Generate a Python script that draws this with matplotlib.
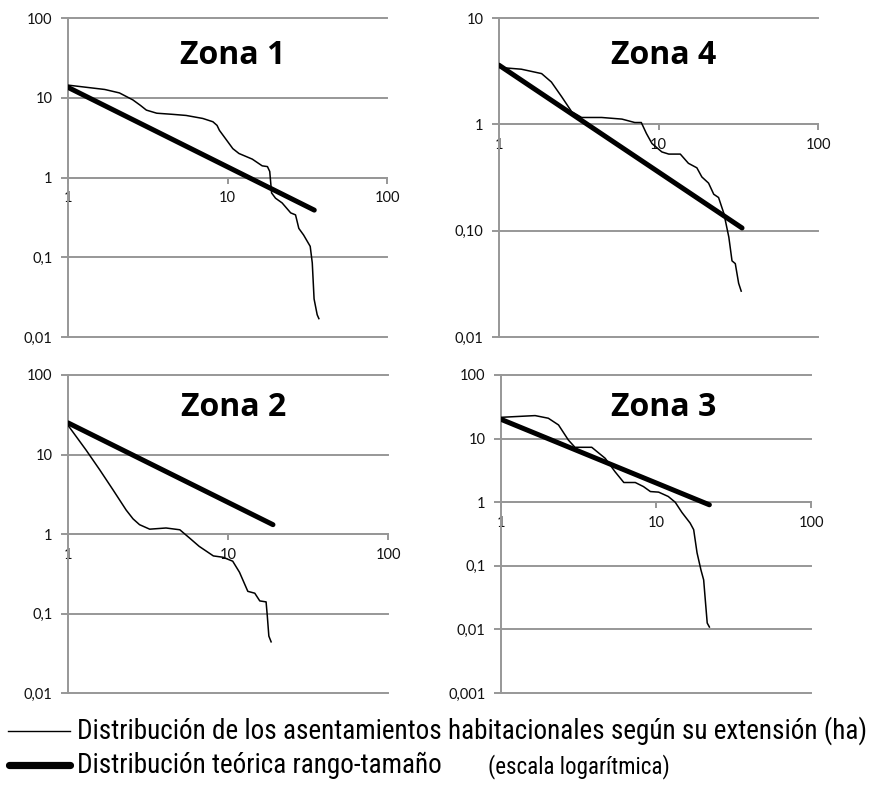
import matplotlib
matplotlib.use("Agg")
import matplotlib.pyplot as plt
import matplotlib.font_manager as fm
from matplotlib.lines import Line2D
from matplotlib.ticker import FixedLocator, FixedFormatter, NullLocator

# ---------------- data ----------------
zone_titles = ["Zona 1", "Zona 4", "Zona 2", "Zona 3"]

# Zona 1
z1_rank = [1, 1.7, 2.1, 2.55, 2.85, 3.1, 3.6, 4.5, 5.5, 7.0, 8.1, 8.6, 8.9, 9.8, 10.8, 11.8, 14.3, 16.5,
           17.8, 18.4, 18.9, 20, 22, 24.9, 26.7, 28, 30, 33, 34, 34.9, 36.5, 37.4]
z1_size = [14.4, 12.7, 11.5, 9.4, 8.0, 7.0, 6.4, 6.2, 6.0, 5.5, 5.0, 4.5, 3.9, 3.0, 2.3, 2.0, 1.7, 1.4,
           1.37, 1.19, 0.64, 0.55, 0.48, 0.36, 0.34, 0.23, 0.19, 0.137, 0.085, 0.03, 0.019, 0.017]
z1_theory_rank = [1, 35]
z1_theory_size = [13.5, 0.39]

# Zona 4
z4_rank = [1, 1.38, 1.85, 2.13, 2.47, 2.85, 3.3, 4.4, 5.9, 7.1, 7.8, 8.4, 9.1, 10.5,
           11.6, 13.7, 15.4, 17.4, 18.7, 20.6, 22.2, 23.8, 25.7, 27.6, 28.9, 30.3, 31.8, 33]
z4_size = [3.43, 3.3, 3.0, 2.5, 1.82, 1.32, 1.16, 1.16, 1.12, 1.04, 1.04, 0.82, 0.66, 0.55,
           0.525, 0.525, 0.43, 0.39, 0.32, 0.28, 0.22, 0.205, 0.145, 0.087, 0.052, 0.049, 0.032, 0.027]
z4_theory_rank = [1, 33.4]
z4_theory_size = [3.6, 0.106]

# Zona 2
z2_rank = [1, 1.3, 1.58, 1.91, 2.31, 2.55, 2.8, 3.24, 4.1, 5.0, 5.75, 6.6, 8.1, 9.3, 10.7,
           11.8, 13.3, 14.7, 15.8, 17.3, 17.6, 18.0, 18.6]
z2_size = [23.3, 11.3, 6.4, 3.6, 2.0, 1.55, 1.31, 1.15, 1.19, 1.13, 0.89, 0.70, 0.53, 0.51, 0.455,
           0.33, 0.19, 0.18, 0.144, 0.14, 0.094, 0.052, 0.044]
z2_theory_rank = [1, 19.1]
z2_theory_size = [25, 1.31]

# Zona 3
z3_rank = [1, 1.66, 2.02, 2.35, 2.72, 3.0, 3.85, 4.7, 5.45, 6.2, 7.35, 8.3, 9.2, 10.4,
           12.0, 13.3, 14.7, 16.6, 17.5, 18.4, 19.5, 20.3, 20.8, 21.4, 22.1]
z3_size = [21.6, 23, 20.9, 16.4, 9.5, 7.3, 7.3, 4.9, 3.0, 2.04, 2.04, 1.76, 1.47, 1.44,
           1.23, 1.0, 0.69, 0.47, 0.37, 0.16, 0.086, 0.06, 0.029, 0.0126, 0.0109]
z3_theory_rank = [1, 22.1]
z3_theory_size = [20.1, 0.91]

x_ticks = [1, 10, 100]
x_ticklabels = ["1", "10", "100"]
y_ticks_z1 = [0.01, 0.1, 1, 10, 100]
y_labels_z1 = ["0,01", "0,1", "1", "10", "100"]
y_ticks_z4 = [0.01, 0.1, 1, 10]
y_labels_z4 = ["0,01", "0,10", "1", "10"]
y_ticks_z2 = [0.01, 0.1, 1, 10, 100]
y_labels_z2 = ["0,01", "0,1", "1", "10", "100"]
y_ticks_z3 = [0.001, 0.01, 0.1, 1, 10, 100]
y_labels_z3 = ["0,001", "0,01", "0,1", "1", "10", "100"]

legend_thin = "Distribución de los asentamientos habitacionales según su extensión (ha)"
legend_thick = "Distribución teórica rango-tamaño"
legend_note = "(escala logarítmica)"

# ---------------- layout ----------------
W, H = 869, 785
fig = plt.figure(figsize=(W / 100, H / 100), dpi=100)
fig.patch.set_facecolor("white")

def fx(px):
    return px / W

def fy(py):
    return 1 - py / H

GRID = "#979797"
TXT = "#111111"

panels = [
    ((68, 387, 18, 337), z1_rank, z1_size, z1_theory_rank, z1_theory_size, y_ticks_z1, y_labels_z1, (233, 55)),
    ((499, 818, 18, 337), z4_rank, z4_size, z4_theory_rank, z4_theory_size, y_ticks_z4, y_labels_z4, (664, 55)),
    ((68, 388, 375, 693), z2_rank, z2_size, z2_theory_rank, z2_theory_size, y_ticks_z2, y_labels_z2, (234, 408)),
    ((501, 811, 375, 693), z3_rank, z3_size, z3_theory_rank, z3_theory_size, y_ticks_z3, y_labels_z3, (664, 408)),
]

for (box, xr, ys, tx, ty, yt, yl, tpos), title in zip(panels, zone_titles):
    x0, x1, yt0, yb0 = box
    ax = fig.add_axes([fx(x0), fy(yb0), (x1 - x0) / W, (yb0 - yt0) / H])
    ax.set_xscale("log")
    ax.set_yscale("log")
    ax.set_xlim(1, 100)
    ax.set_ylim(yt[0], yt[-1])
    ax.set_facecolor("white")

    ax.plot(xr, ys, color="black", lw=1.1, solid_joinstyle="round", zorder=4)
    ax.plot(tx, ty, color="black", lw=3.6, solid_capstyle="round", zorder=5)

    for s in ["top", "right"]:
        ax.spines[s].set_visible(False)
    ax.spines["left"].set_color(GRID)
    ax.spines["left"].set_linewidth(1.4)
    ax.spines["bottom"].set_position(("data", 1))
    ax.spines["bottom"].set_color(GRID)
    ax.spines["bottom"].set_linewidth(1.4)

    ax.xaxis.set_major_locator(FixedLocator(x_ticks))
    ax.xaxis.set_major_formatter(FixedFormatter(x_ticklabels))
    ax.xaxis.set_minor_locator(NullLocator())
    ax.yaxis.set_major_locator(FixedLocator(yt))
    ax.yaxis.set_major_formatter(FixedFormatter(yl))
    ax.yaxis.set_minor_locator(NullLocator())

    ax.tick_params(axis="x", direction="out", length=4, width=1.4, color=GRID,
                   pad=6, labelsize=10.5, labelcolor=TXT)
    ax.tick_params(axis="y", direction="out", length=5, width=1.4, color=GRID,
                   pad=6, labelsize=10.5, labelcolor=TXT)
    for lab in ax.get_xticklabels() + ax.get_yticklabels():
        lab.set_fontfamily("Lato")

    ax.grid(True, axis="y", color=GRID, lw=1.4, zorder=0)
    for gl in ax.get_ygridlines():
        gl.set_clip_on(False)

    fig.text(fx(tpos[0]), fy(tpos[1]), title, ha="center", va="center",
             fontsize=23, fontweight="bold", family="Open Sans", color="black")

# ---------------- legend ----------------
pref = ["Liberation Sans Narrow", "Roboto Condensed", "Open Sans Condensed",
        "Noto Sans Condensed", "DejaVu Sans Condensed"]
cands2 = []
for f in fm.fontManager.ttflist:
    nm = f.name.lower()
    st = str(f.stretch).lower()
    try:
        wv = int(f.weight)
    except Exception:
        wv = 400 if str(f.weight).lower() in ("normal", "regular", "book") else 700
    if f.style != "normal" or wv not in (400, 500):
        continue
    if "narrow" in nm or "condensed" in nm or "condensed" in st:
        cands2.append(f)
chosen = None
for p in pref:
    for f in cands2:
        fn = f.fname.lower()
        if f.name == p and "italic" not in fn and "bold" not in fn:
            chosen = f
            break
    if chosen:
        break
if chosen is None and cands2:
    chosen = cands2[0]

if chosen is not None:
    fp_main = fm.FontProperties(fname=chosen.fname)
else:
    fp_main = fm.FontProperties(family="Liberation Sans")

fig.add_artist(Line2D([fx(8), fx(70)], [fy(731), fy(731)], color="black", lw=1.0))
fig.add_artist(Line2D([fx(9), fx(70)], [fy(765), fy(765)], color="black", lw=5.2,
                      solid_capstyle="round"))

t1 = fig.text(fx(77), fy(739), legend_thin, ha="left", va="baseline",
              fontproperties=fp_main, fontsize=20, color="black")
renderer = fig.canvas.get_renderer()
w1 = t1.get_window_extent(renderer).width
size = min(20 * (865 - 77) / w1, 25)
t1.set_fontsize(size)
t2 = fig.text(fx(77), fy(773), legend_thick, ha="left", va="baseline",
              fontproperties=fp_main, fontsize=size, color="black")
t3 = fig.text(fx(488), fy(773), legend_note, ha="left", va="baseline",
              fontproperties=fp_main, fontsize=size * 0.85, color="black")

fig.savefig("out.png", dpi=100, facecolor="white")
